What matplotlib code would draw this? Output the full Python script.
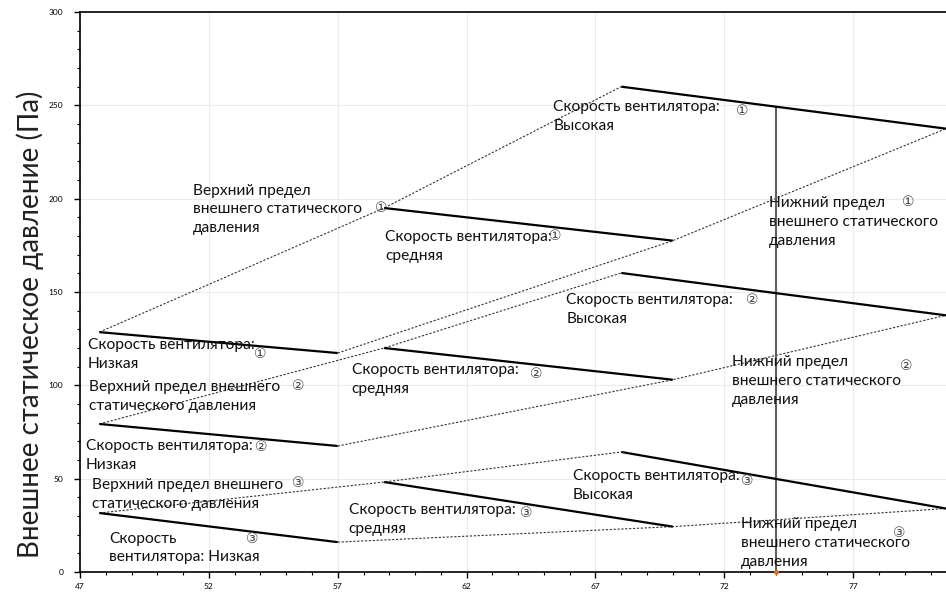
import matplotlib
matplotlib.use("Agg")
import matplotlib.pyplot as plt
from matplotlib.ticker import MultipleLocator
import numpy as np

plt.rcParams['font.family'] = ['Lato', 'Noto Sans', 'DejaVu Sans']

# airflow positions of the fan-speed segments (start, end)
x_low = [47.75, 57.0]
x_mid = [58.8, 70.0]
x_high = [68.0, 80.6]

# external static pressure (Pa) at segment start / end, per unit 1..3
low_1 = [128.5, 117.3]
mid_1 = [195.0, 177.5]
high_1 = [260.0, 237.5]

low_2 = [79.3, 67.5]
mid_2 = [120.0, 103.0]
high_2 = [160.2, 137.5]

low_3 = [31.6, 16.0]
mid_3 = [48.2, 24.3]
high_3 = [64.3, 34.0]

units = [(low_1, mid_1, high_1), (low_2, mid_2, high_2), (low_3, mid_3, high_3)]

rated_x = 74.0

x_ticks = [47, 52, 57, 62, 67, 72, 77]
y_ticks = [0, 50, 100, 150, 200, 250, 300]

ylabel = 'Внешнее статическое давление (Па)'

# (x, y, text, circled-number x, y, number)
labels = [
    (51.38, 194.4, 'Верхний предел\nвнешнего статического\nдавления', 58.7, 195.0, '①'),
    (65.37, 244.0, 'Скорость вентилятора:\nВысокая', 72.7, 247.0, '①'),
    (58.84, 174.3, 'Скорость вентилятора:\nсредняя', 65.45, 180.0, '①'),
    (73.74, 187.5, 'Нижний предел\nвнешнего статического\nдавления', 79.13, 198.0, '①'),
    (65.87, 140.6, 'Скорость вентилятора:\nВысокая', 73.08, 145.7, '②'),
    (47.31, 116.6, 'Скорость вентилятора:\nНизкая', 53.98, 116.8, '①'),
    (47.35, 94.0, 'Верхний предел внешнего\nстатического давления', 55.45, 99.6, '②'),
    (57.54, 103.1, 'Скорость вентилятора:\nсредняя', 64.71, 106.0, '②'),
    (72.31, 102.3, 'Нижний предел\nвнешнего статического\nдавления', 79.05, 110.3, '②'),
    (47.23, 62.4, 'Скорость вентилятора:\nНизкая', 54.05, 67.0, '②'),
    (47.47, 41.5, 'Верхний предел внешнего\nстатического давления', 55.45, 47.7, '③'),
    (66.11, 46.3, 'Скорость вентилятора:\nВысокая', 72.9, 48.7, '③'),
    (57.43, 28.1, 'Скорость вентилятора:\nсредняя', 64.33, 31.6, '③'),
    (48.12, 12.9, 'Скорость\nвентилятора: Низкая', 53.67, 17.7, '③'),
    (72.66, 15.5, 'Нижний предел\nвнешнего статического\nдавления', 78.78, 20.9, '③'),
]

fig = plt.figure(figsize=(9.46, 5.93), dpi=100)
ax = fig.add_axes([80 / 946, 21 / 593, 866 / 946, 560 / 593])

for low, mid, high in units:
    for xs, ys in ((x_low, low), (x_mid, mid), (x_high, high)):
        ax.plot(xs, ys, color='black', lw=1.6, solid_capstyle='butt', zorder=3)
    # upper limit joins the segment starts, lower limit the segment ends
    ax.plot([x_low[0], x_mid[0], x_high[0]], [low[0], mid[0], high[0]],
            color='#333333', lw=0.8, ls=(0, (2, 1.5)), zorder=2)
    ax.plot([x_low[1], x_mid[1], x_high[1]], [low[1], mid[1], high[1]],
            color='#333333', lw=0.8, ls=(0, (2, 1.5)), zorder=2)

rated_top = np.interp(rated_x, x_high, high_1)
ax.plot([rated_x, rated_x], [0, rated_top], color='#606060', lw=1.5, zorder=2)
ax.plot([rated_x], [0], marker='o', ms=2.5, color='#e07020', zorder=4, clip_on=False)

for tx, ty, text, cx, cy, num in labels:
    ax.text(tx, ty, text, fontsize=11.2, va='center', ha='left',
            linespacing=1.42, color='#111111', zorder=5)
    ax.text(cx, cy, num, fontsize=10, va='center', ha='center',
            color='#444444', family=['DejaVu Sans'], zorder=5)

ax.set_xlim(47, 80.6)
ax.set_ylim(0, 300)
ax.set_xticks(x_ticks)
ax.set_yticks(y_ticks)
ax.xaxis.set_minor_locator(MultipleLocator(1))
ax.yaxis.set_minor_locator(MultipleLocator(10))
ax.tick_params(which='major', length=4, width=1, labelsize=6, direction='out')
ax.tick_params(which='minor', length=2.5, width=0.8, direction='out')
ax.tick_params(axis='x', pad=4)
ax.tick_params(axis='y', pad=8)
ax.grid(True, which='major', color='#ebebeb', lw=0.8, zorder=0)
ax.set_axisbelow(True)

ax.spines['right'].set_visible(False)
for side in ('left', 'bottom', 'top'):
    ax.spines[side].set_color('black')
    ax.spines[side].set_linewidth(1.2)

ax.set_ylabel(ylabel, fontsize=20, color='#222222')
ax.yaxis.set_label_coords(-0.041, 0.443)

fig.savefig('out.png', dpi=100)
